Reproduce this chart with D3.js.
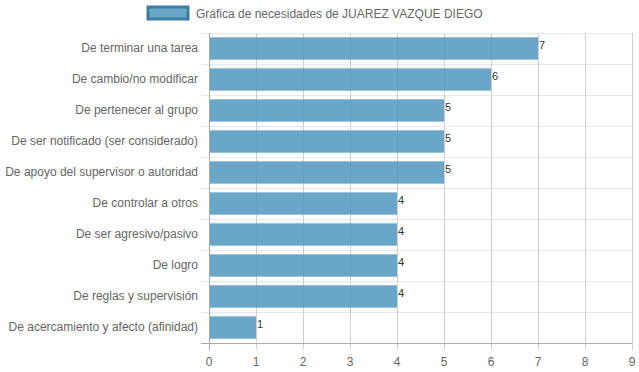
<!DOCTYPE html>
<html>
<head>
<meta charset="utf-8">
<script src="https://cdn.jsdelivr.net/npm/d3@7"></script>
<style>
  body { margin: 0; background: #fff; }
  text { font-family: "Liberation Sans", Arial, sans-serif; }
</style>
</head>
<body>
<script>
// chart data
var categories = [
  "De terminar una tarea",
  "De cambio/no modificar",
  "De pertenecer al grupo",
  "De ser notificado (ser considerado)",
  "De apoyo del supervisor o autoridad",
  "De controlar a otros",
  "De ser agresivo/pasivo",
  "De logro",
  "De reglas y supervisión",
  "De acercamiento y afecto (afinidad)"
];
var values = [7, 6, 5, 5, 5, 4, 4, 4, 4, 1];
var xTicks = [0, 1, 2, 3, 4, 5, 6, 7, 8, 9];
var seriesName = "Gráfica de necesidades de JUAREZ VAZQUE DIEGO";

var w = 639, h = 372;
var pLeft = 209, pRight = 632, pTop = 33, pBottom = 343;

var svg = d3.select("body").append("svg")
    .attr("width", w)
    .attr("height", h);

var x = d3.scaleLinear().domain([0, 9]).range([pLeft, pRight]);
var y = d3.scaleBand().domain(categories).range([pTop, pBottom]);

/* horizontal grid lines between categories */
var hLines = d3.range(categories.length).map(function(i) {
  return pTop + i * y.step();
});
svg.selectAll(".hgrid")
    .data(hLines)
    .enter().append("line")
    .attr("x1", pLeft - 8).attr("x2", pRight)
    .attr("y1", function(d) { return Math.round(d) + 0.5; })
    .attr("y2", function(d) { return Math.round(d) + 0.5; })
    .attr("stroke", "#e8e8e8");

/* vertical grid lines */
svg.selectAll(".vgrid")
    .data(xTicks.slice(1))
    .enter().append("line")
    .attr("x1", function(d) { return x(d) + 0.5; })
    .attr("x2", function(d) { return x(d) + 0.5; })
    .attr("y1", pTop).attr("y2", pBottom + 7)
    .attr("stroke", "#cfcfcf");

/* bars */
var barH = y.bandwidth() * 0.72;
svg.selectAll(".bar")
    .data(values)
    .enter().append("rect")
    .attr("x", x(0))
    .attr("y", function(d, i) { return y(categories[i]) + (y.bandwidth() - barH) / 2; })
    .attr("width", function(d) { return x(d) - x(0); })
    .attr("height", barH)
    .attr("fill", "rgba(80,150,190,0.85)");

/* axis lines */
svg.append("line")
    .attr("x1", pLeft + 0.5).attr("x2", pLeft + 0.5)
    .attr("y1", pTop).attr("y2", pBottom + 7)
    .attr("stroke", "#aaa");
svg.append("line")
    .attr("x1", pLeft - 8).attr("x2", pRight)
    .attr("y1", pBottom + 0.5).attr("y2", pBottom + 0.5)
    .attr("stroke", "#aaa");

/* value labels */
svg.selectAll(".val")
    .data(values)
    .enter().append("text")
    .attr("x", function(d) { return x(d) + 1; })
    .attr("y", function(d, i) { return y(categories[i]) + y.bandwidth() / 2; })
    .attr("font-size", 11)
    .attr("font-family", "'DejaVu Serif', serif")
    .attr("fill", "#333")
    .text(function(d) { return d; });

/* y tick labels */
svg.selectAll(".ylab")
    .data(categories)
    .enter().append("text")
    .attr("x", pLeft - 11)
    .attr("y", function(d) { return y(d) + y.bandwidth() / 2 - 1; })
    .attr("dy", "0.35em")
    .attr("text-anchor", "end")
    .attr("font-size", 12)
    .attr("fill", "#666")
    .text(function(d) { return d; });

/* x tick labels */
svg.selectAll(".xlab")
    .data(xTicks)
    .enter().append("text")
    .attr("x", function(d) { return x(d); })
    .attr("y", pBottom + 19)
    .attr("dy", "0.35em")
    .attr("text-anchor", "middle")
    .attr("font-size", 12)
    .attr("fill", "#666")
    .text(function(d) { return d; });

/* legend */
svg.append("rect")
    .attr("x", 148).attr("y", 7)
    .attr("width", 40).attr("height", 12)
    .attr("fill", "rgba(80,150,190,0.85)")
    .attr("stroke", "#3b7ea6")
    .attr("stroke-width", 3);
svg.append("text")
    .attr("x", 196).attr("y", 14)
    .attr("dy", "0.35em")
    .attr("font-size", 12)
    .attr("fill", "#666")
    .text(seriesName);
</script>
</body>
</html>
